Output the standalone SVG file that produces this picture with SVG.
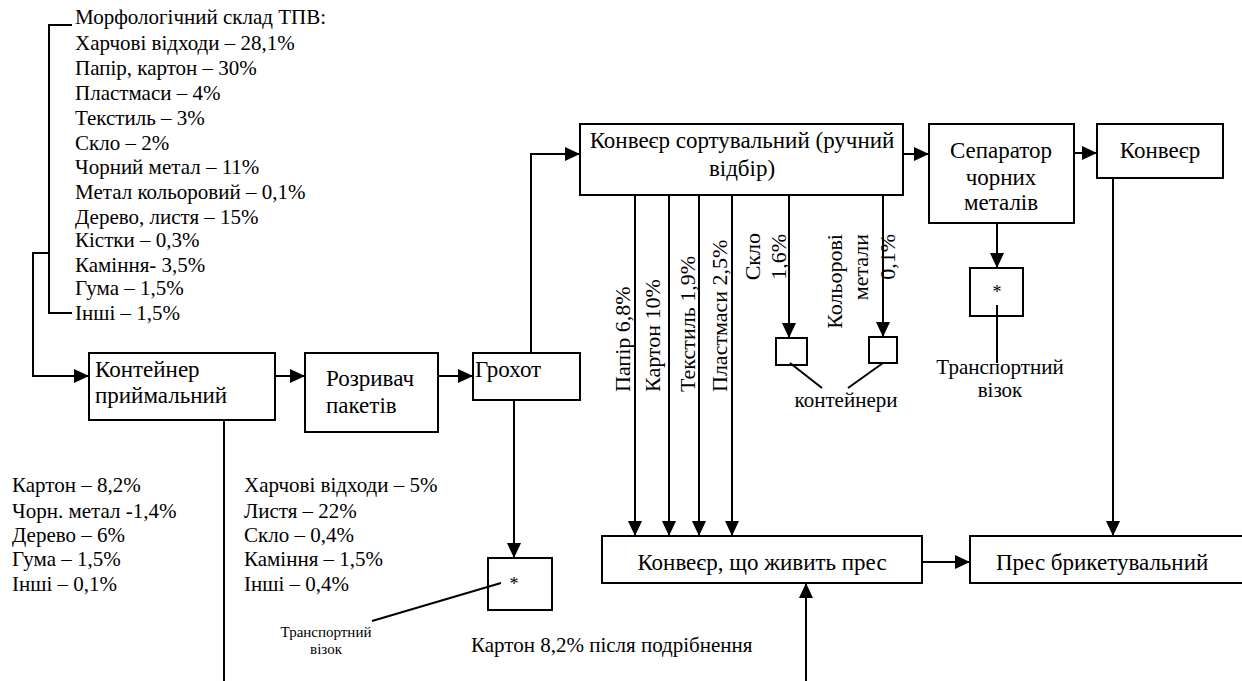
<svg xmlns="http://www.w3.org/2000/svg" width="1242" height="681" viewBox="0 0 1242 681">
<style>
.box{fill:#fff;stroke:#000;stroke-width:2}
text{font-family:'Liberation Serif','Times New Roman',serif;fill:#000}
.t{font-size:21px}
.r{font-size:22px}
.b{font-size:23px}
.s{font-size:15px}
.st{font-size:18px}
.m{text-anchor:middle}
.e{text-anchor:end}
.c{fill:none;stroke:#000;stroke-width:2}
.a{marker-end:url(#ah)}
</style>
<defs>
<marker id="ah" markerWidth="15" markerHeight="14" refX="15" refY="7" orient="auto" markerUnits="userSpaceOnUse">
<path d="M0,0 L15,7 L0,14 z" fill="#000"/>
</marker>
</defs>
<rect width="1242" height="681" fill="#fff"/>

<g id="morph">
<text class="t" x="75" y="24">Морфологічний склад ТПВ:</text>
<text class="t" x="75" y="50">Харчові відходи – 28,1%</text>
<text class="t" x="75" y="75">Папір, картон – 30%</text>
<text class="t" x="75" y="100">Пластмаси – 4%</text>
<text class="t" x="75" y="125">Текстиль – 3%</text>
<text class="t" x="75" y="150">Скло – 2%</text>
<text class="t" x="75" y="174">Чорний метал – 11%</text>
<text class="t" x="75" y="199">Метал кольоровий – 0,1%</text>
<text class="t" x="75" y="224">Дерево, листя – 15%</text>
<text class="t" x="75" y="247">Кістки – 0,3%</text>
<text class="t" x="75" y="272">Каміння- 3,5%</text>
<text class="t" x="75" y="295">Гума – 1,5%</text>
<text class="t" x="75" y="320">Інші – 1,5%</text>
</g>

<g id="container">
<rect class="box" x="89" y="353" width="186" height="67"/>
<text class="b" x="95" y="377">Контейнер</text>
<text class="b" x="95" y="403">приймальний</text>
</g>

<g id="breaker">
<rect class="box" x="305" y="353" width="133" height="79"/>
<text class="b" x="326" y="386">Розривач</text>
<text class="b" x="326" y="413">пакетів</text>
</g>

<g id="screen">
<rect class="box" x="473" y="353" width="107" height="47"/>
<text class="b" x="475" y="377">Грохот</text>
</g>

<g id="sorting">
<rect class="box" x="580" y="124" width="323" height="71"/>
<text class="b m" x="742" y="148">Конвеєр сортувальний (ручний</text>
<text class="b m" x="742" y="176">відбір)</text>
</g>

<g id="separator">
<rect class="box" x="929" y="124" width="145" height="99"/>
<text class="b m" x="1001" y="158">Сепаратор</text>
<text class="b m" x="1001" y="185">чорних</text>
<text class="b m" x="1001" y="210">металів</text>
</g>

<g id="conveyor">
<rect class="box" x="1097" y="124" width="126" height="54"/>
<text class="b m" x="1160" y="158">Конвеєр</text>
</g>

<g id="feed">
<rect class="box" x="602" y="536" width="320" height="47"/>
<text class="b m" x="762" y="570">Конвеєр, що живить прес</text>
</g>

<g id="press">
<rect class="box" x="970" y="536" width="290" height="47"/>
<text class="b" x="996" y="570">Прес брикетувальний</text>
</g>

<g id="cart1">
<rect class="box" x="488" y="558" width="64" height="52"/>
<text class="st m" x="514" y="590">*</text>
<text class="s m" x="326" y="637">Транспортний</text>
<text class="s m" x="326" y="654">візок</text>
</g>

<g id="cart2">
<rect class="box" x="970" y="268" width="53" height="48"/>
<text class="st m" x="997" y="298">*</text>
<text class="t m" x="1000" y="374">Транспортний</text>
<text class="t m" x="1000" y="397">візок</text>
</g>

<g id="bins">
<rect class="box" x="776" y="338" width="31" height="27"/>
<rect class="box" x="869" y="337" width="28" height="26"/>
<text class="t m" x="846" y="407">контейнери</text>
</g>

<g id="labels">
<text class="t" x="12" y="492">Картон – 8,2%</text>
<text class="t" x="12" y="518">Чорн. метал -1,4%</text>
<text class="t" x="12" y="542">Дерево – 6%</text>
<text class="t" x="12" y="566">Гума – 1,5%</text>
<text class="t" x="12" y="591">Інші – 0,1%</text>
<text class="t" x="244" y="492">Харчові відходи – 5%</text>
<text class="t" x="244" y="518">Листя – 22%</text>
<text class="t" x="244" y="542">Скло – 0,4%</text>
<text class="t" x="244" y="566">Каміння – 1,5%</text>
<text class="t" x="244" y="591">Інші – 0,4%</text>
<text class="t" x="471" y="652">Картон 8,2% після подрібнення</text>
<text class="r" transform="translate(630,392) rotate(-90)">Папір 6,8%</text>
<text class="r" transform="translate(660,392) rotate(-90)">Картон 10%</text>
<text class="r" transform="translate(695,392) rotate(-90)">Текстиль 1,9%</text>
<text class="r" transform="translate(727,392) rotate(-90)">Пластмаси 2,5%</text>
<text class="r e" transform="translate(760,233) rotate(-90)">Скло</text>
<text class="r e" transform="translate(786,234) rotate(-90)">1,6%</text>
<text class="r e" transform="translate(842,234) rotate(-90)">Кольорові</text>
<text class="r e" transform="translate(868,234) rotate(-90)">метали</text>
<text class="r e" transform="translate(895,234) rotate(-90)">0,1%</text>
</g>

<g id="connectors">
<path class="c" d="M72,25 H49 V313 H72"/>
<path class="c a" d="M49,253 H33 V376 H89"/>
<path class="c a" d="M275,376 H305"/>
<path class="c a" d="M438,376 H473"/>
<path class="c a" d="M531,353 V154 H580"/>
<path class="c a" d="M635,195 V536"/>
<path class="c a" d="M669,195 V536"/>
<path class="c a" d="M699,195 V536"/>
<path class="c a" d="M732,195 V536"/>
<path class="c a" d="M789,195 V338"/>
<path class="c a" d="M883,195 V337"/>
<path class="c" d="M790,363 L822,388"/>
<path class="c" d="M883,363 L848,388"/>
<path class="c a" d="M903,154 H929"/>
<path class="c a" d="M1074,153 H1097"/>
<path class="c a" d="M1113,178 V536"/>
<path class="c a" d="M997,223 V268"/>
<path class="c" d="M997,305 V363"/>
<path class="c a" d="M514,400 V558"/>
<path class="c" d="M501,583 L372,621"/>
<path class="c" d="M224,420 V681"/>
<path class="c a" d="M922,562 H970"/>
<path class="c a" d="M806,681 V583"/>
</g>
</svg>
